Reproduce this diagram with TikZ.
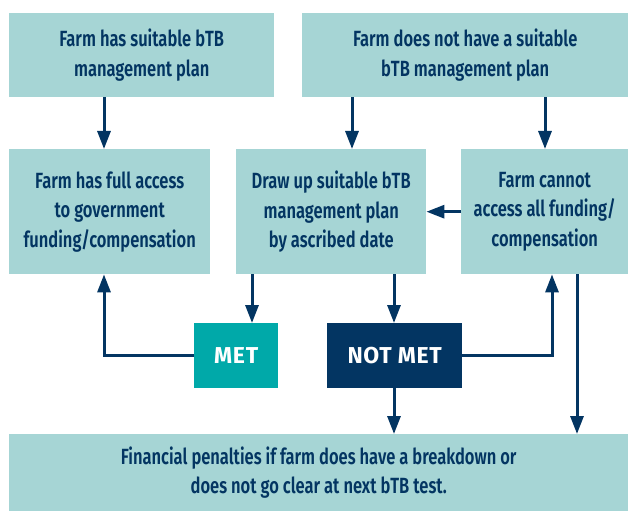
\documentclass[tikz,border=0pt]{standalone}
\usepackage{fontspec}
\setmainfont{Fira Sans}
\newfontfamily\boxfont[FakeStretch=0.75]{Fira Sans SemiBold}
\newfontfamily\tagfont[LetterSpace=3]{Fira Sans Bold}
\usetikzlibrary{arrows.meta}
\definecolor{boxfill}{HTML}{A6D5D5}
\definecolor{navy}{HTML}{033562}
\definecolor{tealfill}{HTML}{00A9A9}
\begin{document}
\begin{tikzpicture}[x=1pt,y=-1pt,
  box/.style={fill=boxfill, text=navy, align=center, inner sep=0pt, anchor=north west,
    font=\boxfont\fontsize{22}{29.5}\selectfont},
  tag/.style={text=white, inner sep=0pt, anchor=north west,
    font=\tagfont\fontsize{23}{26}\selectfont},
  arr/.style={draw=navy, line width=3pt, -{Triangle[width=13pt,length=18pt]}}]
\useasboundingbox (0,0) rectangle (630,511);

% top row
\node[box, minimum width=265pt, minimum height=84pt] (tl) at (9,13)
  {Farm has suitable bTB\\management plan};
\node[box, minimum width=326pt, minimum height=84pt] (tr) at (302,13)
  {Farm does not have a suitable\\bTB management plan};

% middle row
\node[box, minimum width=201pt, minimum height=125pt] (ml) at (9,149)
  {Farm has full access\\to government\\funding/compensation};
\node[box, minimum width=190pt, minimum height=125pt] (mc) at (236,149)
  {Draw up suitable bTB\\management plan\\by ascribed date};
\node[box, minimum width=167pt, minimum height=125pt] (mr) at (461,149)
  {Farm cannot\\access all funding/\\compensation};

% outcome tags
\node[tag, fill=tealfill, minimum width=84pt, minimum height=65pt] (met) at (194,323) {MET};
\node[tag, fill=navy, minimum width=135pt, minimum height=65pt] (notmet) at (327,323) {NOT MET};

% bottom row
\node[box, minimum width=619pt, minimum height=77pt] (pen) at (9,434)
  {Financial penalties if farm does have a breakdown or\\does not go clear at next bTB test.};

% connector columns
\coordinate (c1) at (104,0);
\coordinate (c2) at (352,0);
\coordinate (c3) at (545,0);
\coordinate (c4) at (252,0);
\coordinate (c5) at (394,0);
\coordinate (c6) at (552,0);
\coordinate (c7) at (577,0);

\draw[arr] (tl.south -| c1) -- (ml.north -| c1);
\draw[arr] (tr.south -| c2) -- (mc.north -| c2);
\draw[arr] (tr.south -| c3) -- (mr.north -| c3);
\draw[arr] (mr.west) -- (mc.east);
\draw[arr] (mc.south -| c4) -- (met.north -| c4);
\draw[arr] (mc.south -| c5) -- (notmet.north -| c5);
\draw[arr] (met.west) -| (ml.south -| c1);
\draw[arr] (notmet.east) -| (mr.south -| c6);
\draw[arr] (mr.south -| c7) -- (pen.north -| c7);
\draw[arr] (notmet.south -| c5) -- (pen.north -| c5);
\end{tikzpicture}
\end{document}
